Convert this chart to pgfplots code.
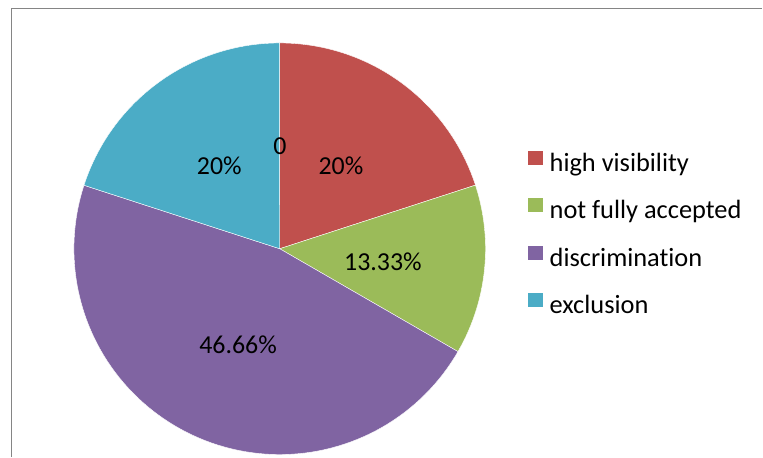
\documentclass[border=0pt]{standalone}
\usepackage{fontspec}
\setmainfont{Carlito}[Ligatures=NoCommon]
\usepackage{pgfplots}
\pgfplotsset{compat=1.18}
\definecolor{c1}{HTML}{C0504D}
\definecolor{c2}{HTML}{9BBB59}
\definecolor{c3}{HTML}{8064A2}
\definecolor{c4}{HTML}{4BACC6}
\definecolor{framegray}{HTML}{858585}
\newcommand{\lblfont}{\fontsize{25.9}{30}\selectfont}
\newcommand{\legfont}{\fontsize{26.4}{30}\selectfont}
\begin{document}
\begin{tikzpicture}
\begin{axis}[
  x=1pt, y=1pt,
  xmin=0, xmax=763, ymin=0, ymax=457,
  hide axis, clip=false,
  samples=90, variable=\t,
  legend image code/.code={\fill[#1,draw=none] (0pt,0pt) rectangle (15pt,14pt);},
  legend style={at={(axis cs:528,306.2)}, anchor=north west,
    draw=none, fill=none, inner sep=0pt, row sep=21pt, column sep=7pt,
    font=\legfont,
    cells={anchor=west},
    nodes={inner sep=0pt, text height=19pt, text depth=6pt}},
]
\path (axis cs:0,0) rectangle (axis cs:763,457);
% pie: centre (280,208), radius 206; values in percent, clockwise from 12 o'clock
\addplot[fill=c1, draw=white, line width=0.4pt, domain=90-3.6*20:90]
  ({280+206*cos(\t)},{208+206*sin(\t)}) -- (axis cs:280,208) -- cycle;
\addlegendentry{high visibility}
\addplot[fill=c2, draw=white, line width=0.4pt, domain=90-3.6*(20+13.33):90-3.6*20]
  ({280+206*cos(\t)},{208+206*sin(\t)}) -- (axis cs:280,208) -- cycle;
\addlegendentry{not fully accepted}
\addplot[fill=c3, draw=white, line width=0.4pt, domain=90-3.6*(20+13.33+46.66):90-3.6*(20+13.33)]
  ({280+206*cos(\t)},{208+206*sin(\t)}) -- (axis cs:280,208) -- cycle;
\addlegendentry{discrimination}
\addplot[fill=c4, draw=white, line width=0.4pt, domain=90-3.6*(20+13.33+46.66+20):90-3.6*(20+13.33+46.66)]
  ({280+206*cos(\t)},{208+206*sin(\t)}) -- (axis cs:280,208) -- cycle;
\addlegendentry{exclusion}
% data labels
\node[anchor=base, font=\lblfont, inner sep=0pt] at (axis cs:280.3,302) {0};
\node[anchor=base, font=\lblfont, inner sep=0pt] at (axis cs:341.3,282) {20\%};
\node[anchor=base, font=\lblfont, inner sep=0pt] at (axis cs:383.3,186.3) {13.33\%};
\node[anchor=base, font=\lblfont, inner sep=0pt] at (axis cs:238.3,102.7) {46.66\%};
\node[anchor=base, font=\lblfont, inner sep=0pt] at (axis cs:219.5,282) {20\%};
% chart frame (only left and top edges visible)
\draw[framegray, line width=1.5pt] (axis cs:11.5,0) -- (axis cs:11.5,448.5) -- (axis cs:763,448.5);
\end{axis}
\end{tikzpicture}
\end{document}
